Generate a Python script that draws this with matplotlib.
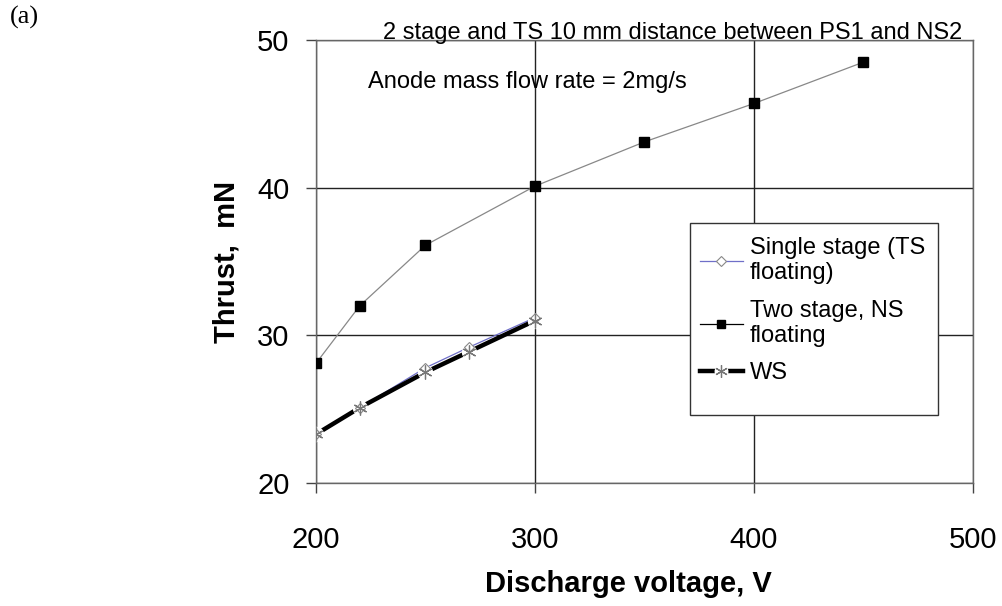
import matplotlib
matplotlib.use("Agg")
import matplotlib.pyplot as plt
from matplotlib.lines import Line2D
from matplotlib.patches import Rectangle
from matplotlib.legend_handler import HandlerTuple

plt.rcParams['font.family'] = ['Liberation Sans', 'DejaVu Sans']

# discharge voltage, V
v_two = [200, 220, 250, 300, 350, 400, 450]
thrust_two = [28.1, 32.0, 36.1, 40.1, 43.1, 45.7, 48.5]

v_single = [200, 220, 250, 270, 300]
thrust_single = [23.3, 25.1, 27.8, 29.2, 31.2]

v_ws = [200, 220, 250, 270, 300]
thrust_ws = [23.3, 25.1, 27.5, 28.9, 31.0]

xticks = [200, 300, 400, 500]
yticks = [20, 30, 40, 50]

fig = plt.figure(figsize=(10.03, 6.06), dpi=100)
ax = fig.add_axes([0.315, 0.203, 0.655, 0.731])

# single stage line sits under the thick WS line
ax.plot(v_single, thrust_single, '-', color='#6f6fc8', lw=0.9, zorder=2)
ax.plot(v_ws, thrust_ws, '-', color='black', lw=3.2, zorder=3)
# white spots leave a gap round each asterisk
ax.plot(v_ws, thrust_ws, 'o', ms=10, mfc='white', mec='white', zorder=4)
ax.plot(v_single, thrust_single, 'D', ms=5, mfc='white', mec='#888888', mew=0.8, zorder=5)
ax.plot(v_ws, thrust_ws, ls='none', marker=(6, 2, 0), ms=10, mec='#777777', mew=0.9, zorder=6)
ax.plot(v_two, thrust_two, '-', color='#888888', lw=0.9, zorder=3)
ax.plot(v_two, thrust_two, 's', ms=6.5, color='black', zorder=7)

ax.set_xlim(200, 500)
ax.set_ylim(20, 50)
ax.set_xticks(xticks)
ax.set_yticks(yticks)
ax.grid(True, color='#222222', lw=1.0)
ax.set_axisbelow(True)
for s in ax.spines.values():
    s.set_color('#666666')
    s.set_linewidth(1.0)
ax.tick_params(direction='out', length=7, width=1, color='#444444',
               labelsize=21, pad=12)
ax.tick_params(axis='x', pad=24)

ax.set_xlabel('Discharge voltage, V', fontsize=21, fontweight='bold')
ax.xaxis.set_label_coords(0.476, -0.197)
ax.set_ylabel('Thrust,  mN', fontsize=21, fontweight='bold', labelpad=12)

ax.text(0.102, 1.016, '2 stage and TS 10 mm distance between PS1 and NS2',
        transform=ax.transAxes, fontsize=17, va='center', ha='left')
ax.text(0.079, 0.905, 'Anode mass flow rate = 2mg/s',
        transform=ax.transAxes, fontsize=17, va='center', ha='left')
fig.text(0.01, 0.972, '(a)', family='Liberation Serif', fontsize=19, va='center')

# legend box with room under the entries
ax.add_patch(Rectangle((0.569, 0.153), 0.378, 0.434, transform=ax.transAxes,
                       facecolor='white', edgecolor='#333333', lw=1.0, zorder=8))

h_single = Line2D([], [], color='#6f6fc8', lw=0.9, marker='D', ms=5,
                  mfc='white', mec='#888888', mew=0.8)
h_two = Line2D([], [], color='black', lw=0.9, marker='s', ms=6, mfc='black', mec='black')
h_ws_line = Line2D([], [], color='black', lw=3.2)
h_ws_gap = Line2D([], [], ls='none', marker='o', ms=9, mfc='white', mec='white')
h_ws_star = Line2D([], [], ls='none', marker=(6, 2, 0), ms=9, mec='#777777', mew=0.9)

leg = ax.legend([h_single, h_two, (h_ws_line, h_ws_gap, h_ws_star)],
                ['Single stage (TS\nfloating)', 'Two stage, NS\nfloating', 'WS'],
                handler_map={tuple: HandlerTuple(ndivide=1)},
                loc='upper left', bbox_to_anchor=(0.556, 0.598), frameon=False,
                fontsize=17, handlelength=1.8, handletextpad=0.3,
                labelspacing=0.65, borderpad=0.3)
leg.set_zorder(9)

fig.savefig('out.png', dpi=100)
